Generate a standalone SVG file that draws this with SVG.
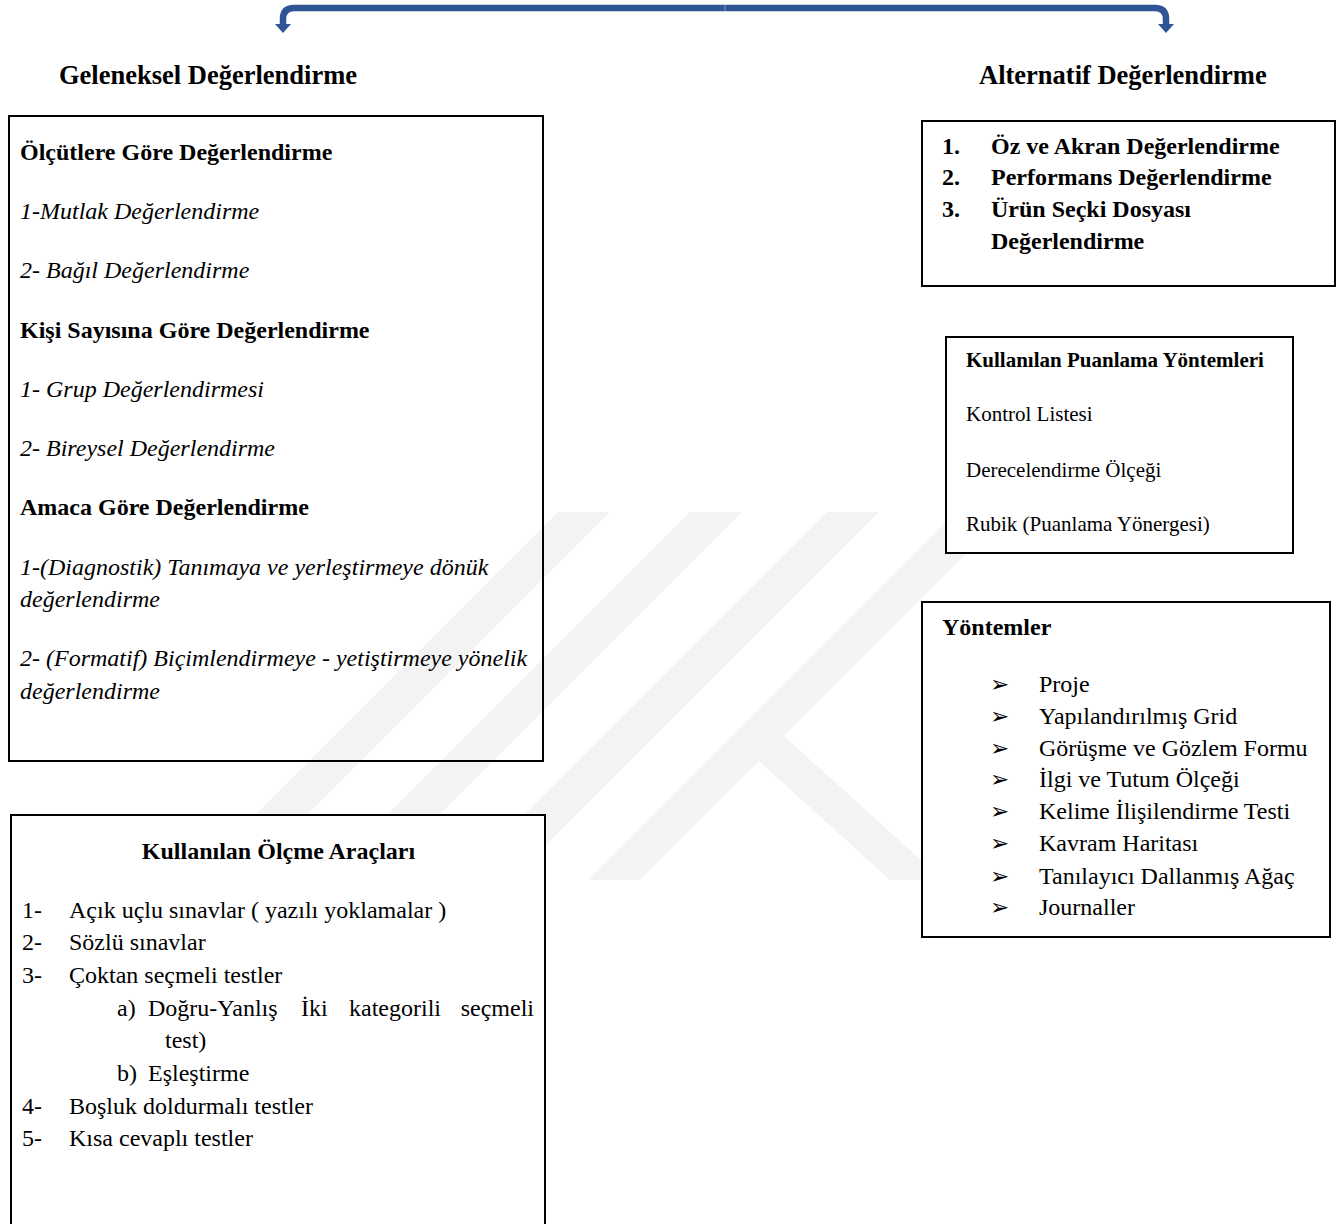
<svg xmlns="http://www.w3.org/2000/svg" width="1343" height="1224" viewBox="0 0 1343 1224">
<style>
text{font-family:"Liberation Serif","Times New Roman",serif;fill:#000;font-size:24px}
.b{font-weight:bold}
.i{font-style:italic}
.s21{font-size:21px}
.h{font-size:26.5px;font-weight:bold}
.box{stroke:#000;stroke-width:2}
.wm{fill:#f3f3f3}
.bul{font-family:"DejaVu Sans",sans-serif;font-size:23px}
</style>
<rect width="1343" height="1224" fill="#fff"/>
<g id="watermark">
<polygon class="wm" points="558,512 610,512 242,880 190,880"/>
<polygon class="wm" points="690,512 742,512 374,880 322,880"/>
<polygon class="wm" points="827,512 879,512 511,880 459,880"/>
<polygon class="wm" points="956,512 1008,512 640,880 588,880"/>
<polygon class="wm" points="784,736 759,761 890,880 943,880"/>
</g>
<g id="connectors">
<path d="M283,25 V19 Q283,8 294,8 H1155 Q1166,8 1166,19 V25" fill="none" stroke="#2F5597" stroke-width="6.5"/>
<polygon points="275,24 291,24 283,33" fill="#2F5597"/>
<polygon points="1158,24 1174,24 1166,33" fill="#2F5597"/>
<line x1="725" y1="5" x2="725" y2="11" stroke="#7f97c4" stroke-width="1"/>
</g>
<g id="heading-geleneksel"><text class="h" x="59" y="84">Geleneksel Değerlendirme</text></g>
<g id="heading-alternatif"><text class="h" x="979" y="84">Alternatif Değerlendirme</text></g>
<g id="box-geleneksel">
<rect class="box" x="9" y="116" width="534" height="645" fill="none"/>
<text class="b" x="20" y="160">Ölçütlere Göre Değerlendirme</text>
<text class="i" x="20" y="219">1-Mutlak Değerlendirme</text>
<text class="i" x="20" y="278">2- Bağıl Değerlendirme</text>
<text class="b" x="20" y="338">Kişi Sayısına Göre Değerlendirme</text>
<text class="i" x="20" y="397">1- Grup Değerlendirmesi</text>
<text class="i" x="20" y="456">2- Bireysel Değerlendirme</text>
<text class="b" x="20" y="515">Amaca Göre Değerlendirme</text>
<text class="i" x="20" y="575">1-(Diagnostik) Tanımaya ve yerleştirmeye dönük</text>
<text class="i" x="20" y="607">değerlendirme</text>
<text class="i" x="20" y="666">2- (Formatif) Biçimlendirmeye - yetiştirmeye yönelik</text>
<text class="i" x="20" y="699">değerlendirme</text>
</g>
<g id="box-olcme-araclari">
<rect class="box" x="11" y="815" width="534" height="420" fill="#fff"/>
<text class="b" x="278.5" y="859" text-anchor="middle">Kullanılan Ölçme Araçları</text>
<text x="22" y="918">1-</text><text x="69" y="918">Açık uçlu sınavlar ( yazılı yoklamalar )</text>
<text x="22" y="950">2-</text><text x="69" y="950">Sözlü sınavlar</text>
<text x="22" y="983">3-</text><text x="69" y="983">Çoktan seçmeli testler</text>
<text x="117" y="1016">a)</text><text x="148" y="1016">Doğru-Yanlış</text><text x="301" y="1016">İki</text><text x="349" y="1016">kategorili</text><text x="534" y="1016" text-anchor="end">seçmeli</text>
<text x="165" y="1048">test)</text>
<text x="117" y="1081">b)</text><text x="148" y="1081">Eşleştirme</text>
<text x="22" y="1114">4-</text><text x="69" y="1114">Boşluk doldurmalı testler</text>
<text x="22" y="1146">5-</text><text x="69" y="1146">Kısa cevaplı testler</text>
</g>
<g id="box-alternatif">
<rect class="box" x="922" y="121" width="413" height="165" fill="#fff"/>
<text class="b" x="942" y="154">1.</text><text class="b" x="991" y="154">Öz ve Akran Değerlendirme</text>
<text class="b" x="942" y="185">2.</text><text class="b" x="991" y="185">Performans Değerlendirme</text>
<text class="b" x="942" y="217">3.</text><text class="b" x="991" y="217">Ürün Seçki Dosyası</text>
<text class="b" x="991" y="249">Değerlendirme</text>
</g>
<g id="box-puanlama">
<rect class="box" x="946" y="337" width="347" height="216" fill="#fff"/>
<text class="b s21" x="966" y="367">Kullanılan Puanlama Yöntemleri</text>
<text class="s21" x="966" y="421">Kontrol Listesi</text>
<text class="s21" x="966" y="477">Derecelendirme Ölçeği</text>
<text class="s21" x="966" y="531">Rubik (Puanlama Yönergesi)</text>
</g>
<g id="box-yontemler">
<rect class="box" x="922" y="602" width="408" height="335" fill="#fff"/>
<text class="b" x="942" y="635">Yöntemler</text>
<text class="bul" x="990" y="692">➢</text><text x="1039" y="692">Proje</text>
<text class="bul" x="990" y="724">➢</text><text x="1039" y="724">Yapılandırılmış Grid</text>
<text class="bul" x="990" y="756">➢</text><text x="1039" y="756">Görüşme ve Gözlem Formu</text>
<text class="bul" x="990" y="787">➢</text><text x="1039" y="787">İlgi ve Tutum Ölçeği</text>
<text class="bul" x="990" y="819">➢</text><text x="1039" y="819">Kelime İlişilendirme Testi</text>
<text class="bul" x="990" y="851">➢</text><text x="1039" y="851">Kavram Haritası</text>
<text class="bul" x="990" y="884">➢</text><text x="1039" y="884">Tanılayıcı Dallanmış Ağaç</text>
<text class="bul" x="990" y="915">➢</text><text x="1039" y="915">Journaller</text>
</g>
</svg>
